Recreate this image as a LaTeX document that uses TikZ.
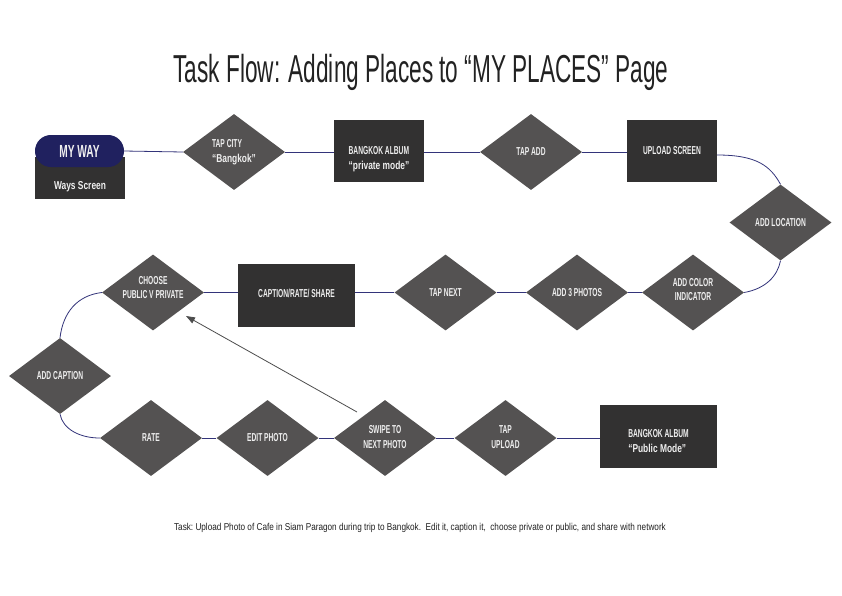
\documentclass[tikz,border=0pt]{standalone}
\usepackage{fontspec}
\setmainfont{Liberation Sans}
\newfontfamily\capfam{Liberation Sans}[FakeStretch=0.58]
\newfontfamily\lowfam{Liberation Sans}[FakeStretch=0.73]
\newfontfamily\titlefam{Liberation Sans}[FakeStretch=0.58]
\newfontfamily\notefam{Liberation Sans}[FakeStretch=0.82]
\usetikzlibrary{shapes.geometric,arrows.meta,calc}
\newcommand{\nf}{\capfam\bfseries\fontsize{11.5}{14.5}\selectfont}
\newcommand{\lf}{\lowfam\bfseries\fontsize{11.5}{14.5}\selectfont}
\newcommand{\mvtext}[2]{\raisebox{#1}[\height][\depth]{#2}}
\definecolor{titlec}{HTML}{222222}
\definecolor{diafill}{HTML}{545252}
\definecolor{boxfill}{HTML}{323131}
\definecolor{pillc}{HTML}{20215F}
\definecolor{linkc}{HTML}{33347A}
\definecolor{arrc}{HTML}{4D4D4D}
\definecolor{txtc}{HTML}{EFEFEF}
\tikzset{
  dia/.style={diamond, aspect=1.342, fill=diafill, minimum width=102pt, minimum height=76pt,
    inner sep=0pt, text=txtc, font=\nf, align=center},
  sbox/.style={rectangle, fill=boxfill, inner sep=0pt, text=txtc, font=\nf},
  link/.style={draw=linkc, line width=0.8pt},
  jump/.style={draw=arrc, line width=0.8pt, -{Triangle[length=9pt,width=6.5pt]}},
}
\begin{document}
\begin{tikzpicture}[x=1pt,y=-1pt]
\fill[white] (0,0) rectangle (842,595);
\useasboundingbox (0,0) rectangle (842,595);

% title
\node[font=\titlefam\fontsize{39}{44}\selectfont, text=titlec, anchor=base, inner sep=0pt]
  (title) at (421,82) {Task Flow: Adding Places to “MY PLACES” Page};

% row 1
\node[sbox, minimum width=90pt, minimum height=42pt] (ways) at (80,178)
  {\mvtext{-9pt}{\lf Ways Screen}};
\node[rectangle, rounded corners=15.9pt, fill=pillc, minimum width=89pt, minimum height=32pt,
  inner sep=0pt, text=txtc, font=\capfam\bfseries\fontsize{17.5}{20}\selectfont] (myway) at (79.5,151) {MY WAY};
\node[dia, align=left] (tapcity) at (234,152) {TAP CITY\\{\lf “Bangkok”}};
\node[sbox, minimum width=90pt, minimum height=62pt] (priv) at (379,151)
  {\mvtext{-8pt}{\begin{tabular}{@{}l@{}}{\nf BANGKOK ALBUM}\\{\lf “private mode”}\end{tabular}}};
\node[dia] (tapadd) at (531,152) {TAP ADD};
\node[sbox, minimum width=90pt, minimum height=62pt] (upload) at (672,151) {UPLOAD SCREEN};
\node[dia] (addloc) at (780.5,222.5) {ADD LOCATION};

% row 2
\node[dia] (color) at (693,292.5) {\mvtext{2pt}{\begin{tabular}{@{}c@{}}ADD COLOR\\INDICATOR\end{tabular}}};
\node[dia] (photos) at (577,292.5) {ADD 3 PHOTOS};
\node[dia] (tapnext) at (445.5,292.5) {TAP NEXT};
\node[sbox, minimum width=117pt, minimum height=63pt] (capbox) at (296.5,295.5)
  {\mvtext{2.5pt}{CAPTION/RATE/ SHARE}};
\node[dia] (choose) at (153,292.5) {\mvtext{4pt}{\begin{tabular}{@{}c@{}}CHOOSE\\PUBLIC V PRIVATE\end{tabular}}};

% row 3
\node[dia] (addcap) at (60,376) {ADD CAPTION};
\node[dia] (rate) at (151,438) {RATE};
\node[dia] (edit) at (267.5,438) {EDIT PHOTO};
\node[dia] (swipe) at (385,438) {\begin{tabular}{@{}c@{}}SWIPE TO\\NEXT PHOTO\end{tabular}};
\node[dia] (tapup) at (505.5,438) {\begin{tabular}{@{}c@{}}TAP\\UPLOAD\end{tabular}};
\node[sbox, minimum width=117pt, minimum height=63pt] (pub) at (658.5,436.5)
  {\mvtext{-5.5pt}{\begin{tabular}{@{}l@{}}{\nf BANGKOK ALBUM}\\{\lf “Public Mode”}\end{tabular}}};

% connectors row 1
\draw[link] (myway.east) -- (tapcity.west);
\draw[link] (tapcity.east) -- (tapcity.east -| priv.west);
\draw[link] (tapadd.west -| priv.east) -- (tapadd.west);
\draw[link] (tapadd.east) -- (tapadd.east -| upload.west);
\draw[link] ([yshift=-4pt]upload.east) .. controls +(40,0) and +(-10,-18) .. (addloc.north);
\draw[link] (addloc.south) .. controls +(-3,15) and +(22,-4) .. (color.east);

% connectors row 2
\draw[link] (color.west) -- (photos.east);
\draw[link] (photos.west) -- (tapnext.east);
\draw[link] (tapnext.west) -- (tapnext.west -| capbox.east);
\draw[link] (choose.east) -- (choose.east -| capbox.west);
\draw[link] (choose.west) .. controls +(-25,3) and +(3,-25) .. (addcap.north);
\draw[link] (addcap.south) .. controls +(3,15) and +(-20,0) .. (rate.west);

% connectors row 3
\draw[link] (rate.east) -- (edit.west);
\draw[link] (edit.east) -- (swipe.west);
\draw[link] (swipe.east) -- (tapup.west);
\draw[link] (tapup.east) -- (tapup.east -| pub.west);

% jump back arrow
\draw[jump] ([shift={(-28,-26)}]swipe.center) -- ([shift={(33,23.5)}]choose.center);

% task note
\node[font=\notefam\fontsize{10}{12}\selectfont, text=titlec, anchor=base, inner sep=0pt]
  (note) at (420,530) {\frenchspacing Task: Upload Photo of Cafe in Siam Paragon during trip to Bangkok.\ \ Edit it, caption it,\ \ choose private or public, and share with network};
\end{tikzpicture}
\end{document}
